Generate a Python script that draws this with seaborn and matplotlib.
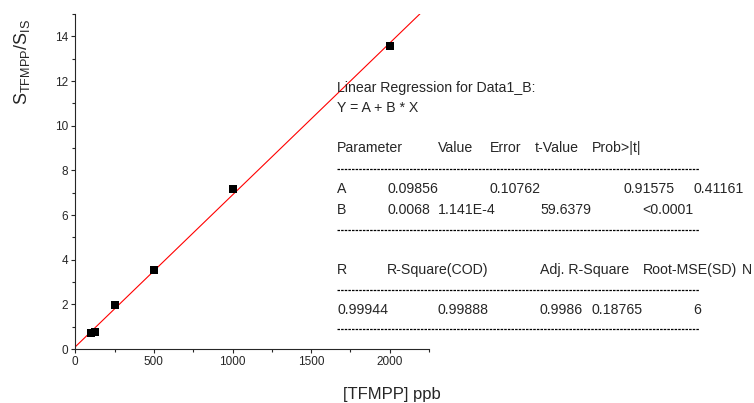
import numpy as np
import pandas as pd
import seaborn as sns
import matplotlib.pyplot as plt
from matplotlib.lines import Line2D
from matplotlib.ticker import MultipleLocator

# calibration data
conc = [100, 125, 250, 500, 1000, 2000]
ratio = [0.72, 0.75, 1.95, 3.52, 7.15, 13.58]

# fit parameters as reported
A = 0.09856
B = 0.0068

sns.set_style('ticks')
plt.rcParams['font.family'] = ['Liberation Sans', 'DejaVu Sans']
plt.rcParams['mathtext.fontset'] = 'custom'
plt.rcParams['mathtext.rm'] = 'Liberation Sans'

W, H = 754, 403
fig = plt.figure(figsize=(W / 100, H / 100), dpi=100)
ax = fig.add_axes([75.3 / W, 1 - 349 / H, (429 - 75.3) / W, (349 - 14) / H])

df = pd.DataFrame({'conc': conc, 'ratio': ratio})
xfit = np.linspace(0, 2250, 50)
fit = pd.DataFrame({'x': xfit, 'y': A + B * xfit})

sns.lineplot(data=fit, x='x', y='y', color='red', lw=0.8, ax=ax)
sns.scatterplot(data=df, x='conc', y='ratio', marker='s', color='black',
                s=30, edgecolor='black', linewidth=0, zorder=3, ax=ax)

ax.set_xlim(0, 2250)
ax.set_ylim(0, 15)
ax.xaxis.set_major_locator(MultipleLocator(500))
ax.xaxis.set_minor_locator(MultipleLocator(250))
ax.yaxis.set_major_locator(MultipleLocator(2))
ax.yaxis.set_minor_locator(MultipleLocator(1))
ax.tick_params(which='both', direction='out', width=0.8, labelsize=8.5, pad=2)
ax.tick_params(which='major', length=3)
ax.tick_params(which='minor', length=2.5)
ax.set_xlabel('')
ax.set_ylabel('')
sns.despine(ax=ax)
for s in ['left', 'bottom']:
    ax.spines[s].set_linewidth(0.8)

def px(x, y):
    return x / W, 1 - y / H

fig.text(*px(22, 62), r'S$_{\mathregular{TFMPP}}$/S$_{\mathregular{IS}}$',
         rotation=90, ha='center', va='center', fontsize=13)
fig.text(*px(392, 395), '[TFMPP] ppb', ha='center', va='center', fontsize=12)

# regression report
fs = 10.2
rows = [
    (88, [(337, 'Linear Regression for Data1_B:')]),
    (108, [(337, 'Y = A + B * X')]),
    (148, [(337, 'Parameter'), (438, 'Value'), (490, 'Error'), (535, 't-Value'), (592, 'Prob>|t|')]),
    (189, [(337, 'A'), (387, '0.09856'), (490, '0.10762'), (623, '0.91575'), (693, '0.41161')]),
    (210, [(337, 'B'), (387, '0.0068'), (438, '1.141E-4'), (540, '59.6379'), (642, '<0.0001')]),
    (270, [(337, 'R'), (387, 'R-Square(COD)'), (540, 'Adj. R-Square'), (643, 'Root-MSE(SD)'), (742, 'N')]),
    (310, [(337, '0.99944'), (438, '0.99888'), (540, '0.9986'), (591, '0.18765'), (693, '6')]),
]
for y, items in rows:
    for x, t in items:
        fig.text(*px(x, y), t, ha='left', va='center', fontsize=fs)

for y in [169, 230, 290, 329]:
    fig.add_artist(Line2D([337 / W, 699 / W], [1 - y / H, 1 - y / H],
                          color='black', lw=0.9, linestyle=(0, (2.0, 0.9))))

fig.savefig('out.png', dpi=100)
